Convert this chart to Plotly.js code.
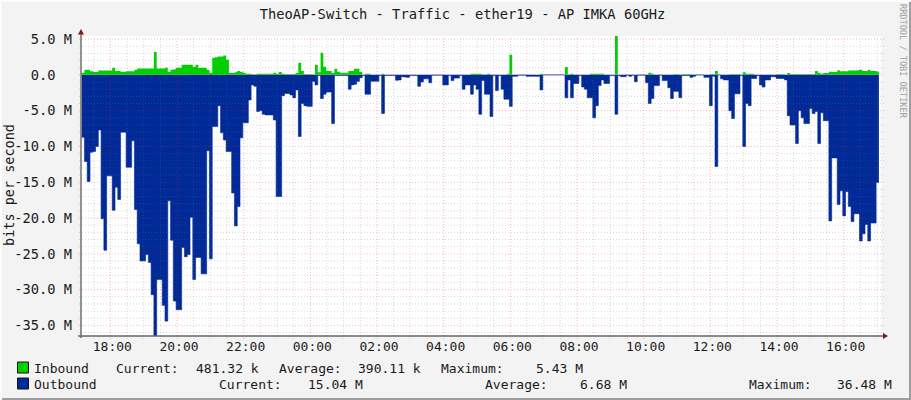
<!DOCTYPE html>
<html>
<head>
<meta charset="utf-8">
<script src="https://cdn.plot.ly/plotly-3.0.1.min.js"></script>
<style>
html,body{margin:0;padding:0;background:#f3f3f3;overflow:hidden}
#chart{width:911px;height:400px;box-shadow:inset 2px 2px 0 #fcfcfc,inset -2px -2px 0 #9e9e9e}
</style>
</head>
<body>
<div id="chart"></div>
<script>
const firstSample = "2024-01-01T17:08:24Z";
const stepMinutes = 5;
const rangeStart = "2024-01-01 17:07:12";
const rangeEnd = "2024-01-02 17:07:12";

const inbound = [
.3,.7,.7,.5,.4,.4,.6,.6,.6,.6,
.6,1,.55,.55,.45,.45,.5,.5,.5,.7,
.9,.9,.9,.9,.9,.9,3.2,.9,.9,.9,
1,.45,.7,.8,1,1,1.4,1.4,1.4,1.4,
1.15,1.4,.95,1,1,.7,.3,2.4,2.45,2.55,
2.55,2.7,2.1,.25,.25,.35,.55,.45,.3,.15,
.15,.1,.05,.15,.15,.15,.15,.15,.15,.3,
.15,.4,.15,.1,.1,.1,.1,.25,1.7,.55,
.1,.1,.1,.05,1.4,.35,3.1,1.15,.55,.55,
.25,.85,.45,.3,.3,.3,.55,.55,.85,.85,
.4,.02,.15,.15,.02,.02,.02,.02,.15,.02,
.02,.02,.02,.02,.02,.02,.02,.02,.02,.02,
.02,.02,.02,.02,.02,.02,.02,.02,.02,.02,
.02,.02,.02,.02,.02,.02,.02,.02,.02,.02,
.15,.15,.15,.15,.05,.05,.15,.02,.02,.02,
.02,.02,.02,.15,2.8,.02,.02,.02,.02,.02,
.02,.02,.02,.02,.02,.15,.02,.02,.02,.02,
.02,.02,.02,.02,1.1,.05,.15,.02,.02,.02,
.02,.02,.02,.15,.15,.15,.15,.15,.02,.02,
.02,.02,5.43,.02,.02,.02,.02,.02,.02,.02,
.02,.02,.02,.02,.3,.15,.02,.02,.02,.02,
.02,.02,.02,.1,.1,.02,.1,.1,.1,.05,
.02,.1,.02,.02,.02,.02,.1,.1,.55,.02,
.02,.02,.02,.1,.1,.1,.1,.02,.35,.15,
.15,.15,.02,.02,.02,.02,.02,.02,.02,.02,
.1,.1,.1,.02,.25,.1,.1,.1,.1,.1,
.1,.1,.1,.1,.55,.3,.15,.25,.25,.45,
.4,.4,.65,.5,.5,.5,.6,.6,.6,.65,
.7,.55,.55,.7,.55,.55,.481
];

const outbound = [
8.7,12.1,14.9,10.8,10.7,10.0,7.7,20.1,24.5,14.1,
14.1,18.9,15.7,17.4,8,8,12.9,12.9,9.2,18.8,
23.6,26,26,25.1,26.2,30.7,36.48,28.6,28.6,32.2,
34.4,17.6,23.1,31.6,32.8,32.8,24.1,25.4,25.1,19.9,
28.6,25.5,25.5,27.8,27.8,10.6,25.7,7.2,7.2,4.3,
8.1,9.1,10.7,10.7,16.5,21.1,18.4,8.8,6.7,6.7,
3.5,1.4,1.6,5.1,5,5.5,5.6,5.6,5.6,6.3,
17,17,2.9,2.6,2.6,2.8,3.2,2.1,8.6,4,
4.3,4.4,4.4,.9,1.4,.1,3.3,2.7,2.4,2.4,
6.8,.1,.1,.1,.1,.1,2,1.4,1.3,.9,
.4,.1,2.7,2.7,.9,.9,.9,.1,5.4,.1,
.1,.1,.1,.75,.7,.25,.3,.35,.1,.1,
.1,1.6,1,.55,.55,1.1,.05,.05,.05,.05,
1.4,1.4,.1,.8,.45,.45,.1,2,1.4,1.4,
2.7,1.4,2,5.5,.8,2.7,2.7,5.8,.1,2.2,
.1,2,3.4,3.4,4.4,.2,.2,.05,.05,.05,
.2,.2,.2,.2,.2,2.1,.02,.02,.02,.02,
.02,.02,.02,.02,3.2,.7,3.2,1.2,1.2,.1,
1.7,2,3.2,3.2,6,4.3,1.5,.7,1.2,1.2,
.1,.1,5.5,.1,.25,.25,.05,.2,.05,.95,
.05,.05,.05,1.1,4,3.3,1.5,1.5,.05,.8,
.8,1.8,3.3,2.3,2.3,3.2,.1,.1,.1,.35,
.2,.03,.03,.03,.35,.35,4.3,.2,12.8,.02,
.55,.7,.7,5,6.1,2.65,2.65,.1,10,4,
4.3,.5,.5,.1,1.4,1.7,.7,.7,.25,.25,
.5,.5,.5,.7,5.7,7,7,9.6,5,6,
6.8,6.8,4.7,5.4,5.1,9.6,5.3,6.4,6.4,20.4,
11.6,11.6,18.1,16.2,19.7,16.3,18.4,20.5,19.4,19.4,
23.2,22.2,20.9,23.2,20.7,20.7,15.04
];

const yTicks = [5,0,-5,-10,-15,-20,-25,-30,-35];
const yTickLabels = ["5.0 M","0.0\u00a0\u00a0","-5.0 M","-10.0 M","-15.0 M","-20.0 M","-25.0 M","-30.0 M","-35.0 M"];
const legendRow1 = [["Inbound",33],["Current:",115],["481.32 k",195],["Average:",278],["390.11 k",357],["Maximum:",440],["5.43 M",535]];
const legendRow2 = [["Outbound",33],["Current:",218],["15.04 M",307],["Average:",484],["6.68 M",579],["Maximum:",748],["36.48 M",836]];

const W = 911, H = 400;
const L = 81, R = 30, T = 36, B = 64;
const mono = "'DejaVu Sans Mono', monospace";
const ink = "#1a1a1a";
const times = [];
const t0 = Date.parse(firstSample);
for (let i = 0; i <= outbound.length; i++) times.push(new Date(t0 + i * stepMinutes * 60000).toISOString());
const lastOf = a => a.concat([a[a.length - 1]]);

const traces = [
  {x: times, y: lastOf(outbound).map(v => -v), type: "scatter", mode: "lines", name: "Outbound",
   line: {shape: "hv", width: 1, color: "rgba(0,42,151,0.6)"}, fill: "tozeroy", fillcolor: "#002A97", hoverinfo: "skip"},
  {x: times, y: lastOf(inbound), type: "scatter", mode: "lines", name: "Inbound",
   line: {shape: "hv", width: 0, color: "#00CF00"}, fill: "tozeroy", fillcolor: "#00CF00", hoverinfo: "skip"}
];

const shapes = [];
const minorGrid = "rgba(120,120,120,0.28)", majorGrid = "rgba(240,40,40,0.32)";
const plotW = W - L - R, plotH = H - T - B;
// gridlines drawn over the areas, as the reference does
for (let v = -36; v <= 5; v++) {
  const major = v % 5 === 0;
  shapes.push({type: "line", layer: "above", xref: "paper", yref: "y", x0: -2 / plotW, x1: 1 + 3 / plotW, y0: v, y1: v,
    line: {color: major ? majorGrid : minorGrid, width: 1, dash: "1px,2px"}});
}
const h0 = Date.parse("2024-01-01T17:30:00Z");
for (let k = 0; k < 48; k++) {
  const t = h0 + k * 1800000;
  const major = new Date(t).getUTCHours() % 2 === 0 && new Date(t).getUTCMinutes() === 0;
  const s = new Date(t).toISOString();
  shapes.push({type: "line", layer: "above", xref: "x", yref: "paper", x0: s, x1: s, y0: -3 / plotH, y1: 1,
    line: {color: major ? majorGrid : minorGrid, width: 1, dash: "1px,2px"}});
}
// axis lines and arrowheads
const px = x => (x - L) / plotW, py = y => 1 - (y - T) / plotH;
const axisC = "#666666", arrowC = "#8a1414";
shapes.push({type: "line", layer: "above", xref: "paper", yref: "paper", x0: px(L), x1: px(L), y0: py(H - B + 2), y1: py(33), line: {color: axisC, width: 1.4}});
shapes.push({type: "line", layer: "above", xref: "paper", yref: "paper", x0: px(L - 3), x1: px(884), y0: py(H - B), y1: py(H - B), line: {color: axisC, width: 1.4}});
shapes.push({type: "path", layer: "above", xref: "paper", yref: "paper",
  path: `M ${px(78)} ${py(34.5)} L ${px(84)} ${py(34.5)} L ${px(81)} ${py(29)} Z`, fillcolor: arrowC, line: {width: 0}});
shapes.push({type: "path", layer: "above", xref: "paper", yref: "paper",
  path: `M ${px(883)} ${py(333)} L ${px(883)} ${py(339)} L ${px(888)} ${py(336)} Z`, fillcolor: arrowC, line: {width: 0}});
// legend swatches
[[362, "#00CF00"], [378, "#002A97"]].forEach(([y, c]) => {
  shapes.push({type: "rect", layer: "above", xref: "paper", yref: "paper", x0: px(17.5), x1: px(28.5), y0: py(y), y1: py(y + 11),
    fillcolor: c, line: {color: "#111", width: 1}});
});

const annotations = [];
[[legendRow1, 368], [legendRow2, 384]].forEach(([row, y]) => {
  row.forEach(([text, x]) => annotations.push({text, xref: "paper", yref: "paper", x: px(x), y: py(y),
    xanchor: "left", yanchor: "middle", showarrow: false, borderpad: 0, font: {family: mono, size: 13, color: ink}}));
});
annotations.push({text: "RRDTOOL / TOBI OETIKER", xref: "paper", yref: "paper", x: px(903), y: py(61), textangle: 90,
  xanchor: "center", yanchor: "middle", showarrow: false, font: {family: mono, size: 8.6, color: "#a0a0a0"}});
annotations.push({text: "bits per second", xref: "paper", yref: "paper", x: px(8.5), y: py(185.5), textangle: -90,
  xanchor: "center", yanchor: "middle", showarrow: false, font: {family: mono, size: 13.5, color: ink}});

const layout = {
  width: W, height: H,
  margin: {l: L, r: R, t: T, b: B, pad: 0},
  paper_bgcolor: "rgba(0,0,0,0)",
  plot_bgcolor: "#ffffff",
  showlegend: false,
  title: {text: "TheoAP-Switch - Traffic - ether19 - AP IMKA 60GHz", x: 462.5 / W, xanchor: "center", y: 1 - 14.5 / H, yanchor: "middle",
    font: {family: mono, size: 13.75, color: ink}},
  xaxis: {type: "date", range: [rangeStart, rangeEnd], tick0: "2024-01-01 18:00:00", dtick: 7200000, tickformat: "%H:%M",
    showgrid: false, zeroline: false, showline: false, ticks: "", ticklabelshift: 2, ticklabelstandoff: 1,
    tickfont: {family: mono, size: 13, color: ink}, fixedrange: true},
  yaxis: {range: [-36.48, 5.43], tickmode: "array", tickvals: yTicks, ticktext: yTickLabels,
    showgrid: false, zeroline: false, showline: false, ticks: "", ticklabelstandoff: 8,
    tickfont: {family: mono, size: 13.7, color: ink}, fixedrange: true},
  shapes, annotations
};
Plotly.newPlot("chart", traces, layout, {displayModeBar: false, staticPlot: true});
</script>
</body>
</html>
